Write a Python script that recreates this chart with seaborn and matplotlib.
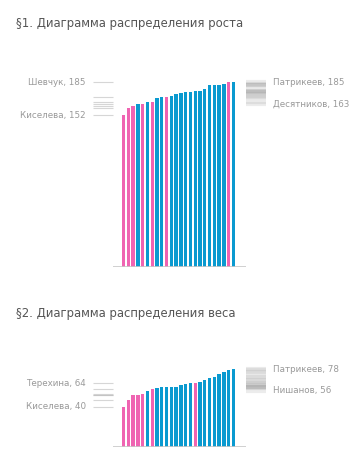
import numpy as np
import pandas as pd
import matplotlib
matplotlib.use("Agg")
import matplotlib.pyplot as plt
import seaborn as sns

# sorted values per person, with sex
height_vals = [152, 159, 161, 163, 163, 165, 165, 169, 170, 170, 171, 173,
               174, 175, 175, 176, 176, 178, 182, 182, 182, 183, 185, 185]
height_sex = ["f", "f", "f", "m", "f", "m", "f", "m", "m", "f", "m", "m",
              "m", "m", "m", "m", "m", "m", "m", "m", "m", "m", "f", "m"]
weight_vals = [40, 47, 52, 52, 53, 56, 58, 59, 60, 60, 60, 60,
               62, 63, 64, 64, 65, 67, 69, 70, 73, 75, 77, 78]
weight_sex = ["f", "f", "f", "f", "f", "m", "f", "m", "m", "m", "m", "m",
              "m", "m", "m", "f", "m", "m", "m", "m", "m", "m", "m", "m"]

height_names_f = ["Шевчук", "Киселева"]      # max, min
height_names_m = ["Патрикеев", "Десятников"]
weight_names_f = ["Терехина", "Киселева"]
weight_names_m = ["Патрикеев", "Нишанов"]

titles = ["§1. Диаграмма распределения роста", "§2. Диаграмма распределения веса"]

PINK = "#ef64b2"
BLUE = "#0a9ad0"
W, H = 364, 471
STEP = 4.78          # px per bar slot
X0 = 123.5           # px centre of first bar


def px_axes(fig, left, top, width, height):
    return fig.add_axes([left / W, 1 - (top + height) / H, width / W, height / H])


def dx(px):
    return (px - X0) / STEP


def draw_chart(fig, baseline, span, vals, sex, names_f, names_m):
    ax = px_axes(fig, 93, baseline - span, 173, span)
    df = pd.DataFrame({"i": [str(i) for i in range(len(vals))], "v": vals, "s": sex})
    sns.barplot(data=df, x="i", y="v", hue="s", palette={"f": PINK, "m": BLUE},
                dodge=False, width=0.7, legend=False, ax=ax, saturation=1,
                linewidth=0, errorbar=None)
    ax.set_xlim(dx(93), dx(266))
    ax.set_ylim(0, span)
    ax.axis("off")

    ax.hlines(0, dx(113), dx(246), color="#c8c8c8", lw=1.2)

    fem = [v for v, s in zip(vals, sex) if s == "f"]
    mal = [v for v, s in zip(vals, sex) if s == "m"]
    ax.hlines(fem, dx(93), dx(113), color="#bbbbbb", lw=0.8, alpha=0.6)
    ax.hlines(mal, dx(246), dx(266), color="#999999", lw=3, alpha=0.18)

    kw = dict(fontsize=6.3, color="#999999", va="center", clip_on=False)
    ax.text(dx(86), max(fem), f"{names_f[0]}, {max(fem)}", ha="right", **kw)
    ax.text(dx(86), min(fem), f"{names_f[1]}, {min(fem)}", ha="right", **kw)
    ax.text(dx(273), max(mal), f"{names_m[0]}, {max(mal)}", ha="left", **kw)
    ax.text(dx(273), min(mal), f"{names_m[1]}, {min(mal)}", ha="left", **kw)
    return ax


sns.set_theme(style="white")
plt.rcParams["font.family"] = ["DejaVu Sans"]

fig = plt.figure(figsize=(W / 100, H / 100), dpi=100)
fig.patch.set_facecolor("white")

fig.text(16 / W, 1 - 24 / H, titles[0], fontsize=8.4, color="#555555", va="center")
fig.text(16 / W, 1 - 313 / H, titles[1], fontsize=8.4, color="#555555", va="center")

draw_chart(fig, 267.3, 190, height_vals, height_sex, height_names_f, height_names_m)
draw_chart(fig, 447, 90, weight_vals, weight_sex, weight_names_f, weight_names_m)

fig.savefig("out.png", dpi=100)
